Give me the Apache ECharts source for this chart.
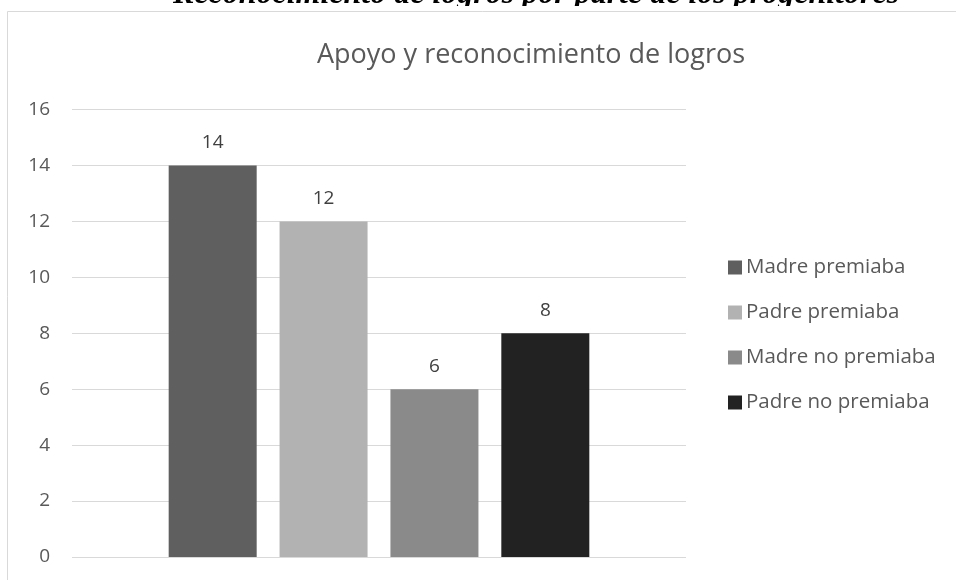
<!DOCTYPE html>
<html>
<head>
<meta charset="utf-8">
<script src="https://cdn.jsdelivr.net/npm/echarts@6/dist/echarts.min.js"></script>
<style>
  html, body { margin: 0; padding: 0; background: #ffffff; }
  #chart { width: 956px; height: 580px; }
</style>
</head>
<body>
<div id="chart"></div>
<script>
// Data
const categories = [''];
const seriesNames = ['Madre premiaba', 'Padre premiaba', 'Madre no premiaba', 'Padre no premiaba'];
const seriesValues = [14, 12, 6, 8];
const seriesColors = ['#5f5f5f', '#b2b2b2', '#8a8a8a', '#222222'];
const yTicks = { min: 0, max: 16, interval: 2 };

const captionText = 'Reconocimiento de logros por parte de los progenitores';
const chartTitle = 'Apoyo y reconocimiento de logros';

const FONT = '"Open Sans", "Noto Sans", sans-serif';
const TEXT_GREY = '#595959';

const chart = echarts.init(document.getElementById('chart'), null, { renderer: 'canvas' });

const series = seriesNames.map((name, i) => ({
  name: name,
  type: 'bar',
  data: [seriesValues[i]],
  barWidth: 88,
  barGap: '26%',
  itemStyle: { color: seriesColors[i] },
  label: {
    show: true,
    position: 'top',
    distance: 13,
    color: '#404040',
    fontFamily: FONT,
    fontSize: 19
  }
}));

chart.setOption({
  animation: false,
  backgroundColor: '#ffffff',
  graphic: [
    {
      // caption above the chart frame, its lower part hidden by the frame
      type: 'text',
      z: -20,
      x: 536,
      y: -5,
      style: {
        text: captionText,
        fontStyle: 'italic',
        fontWeight: 'bold',
        fontSize: 32,
        fontFamily: '"Liberation Serif", "DejaVu Serif", serif',
        fill: '#000000',
        align: 'center',
        verticalAlign: 'middle'
      }
    },
    {
      // white strip between caption and frame
      type: 'rect',
      z: -15,
      shape: { x: 0, y: 6, width: 956, height: 6 },
      style: { fill: '#ffffff' }
    },
    {
      // chart frame
      type: 'rect',
      z: -10,
      shape: { x: 7.5, y: 11.5, width: 1000, height: 700 },
      style: { fill: '#ffffff', stroke: '#d9d9d9', lineWidth: 1 }
    },
    {
      type: 'text',
      z: 3,
      x: 531,
      y: 55,
      style: {
        text: chartTitle,
        font: '27px ' + FONT,
        fill: TEXT_GREY,
        align: 'center',
        verticalAlign: 'middle'
      }
    }
  ],
  grid: { left: 72, right: 270, top: 109.5, bottom: 23, containLabel: false },
  legend: {
    orient: 'vertical',
    left: 723,
    top: 252,
    itemWidth: 14,
    itemHeight: 14,
    itemGap: 24,
    icon: 'rect',
    data: seriesNames,
    textStyle: { color: TEXT_GREY, fontFamily: FONT, fontSize: 20.5, padding: [0, 0, 0, -1] }
  },
  xAxis: {
    type: 'category',
    data: categories,
    axisLine: { show: false },
    axisTick: { show: false },
    axisLabel: { show: false }
  },
  yAxis: {
    type: 'value',
    min: yTicks.min,
    max: yTicks.max,
    interval: yTicks.interval,
    axisLine: { show: false },
    axisTick: { show: false },
    axisLabel: { color: TEXT_GREY, fontFamily: FONT, fontSize: 19, margin: 22 },
    splitLine: { lineStyle: { color: '#d9d9d9', width: 1 } }
  },
  series: series
});
</script>
</body>
</html>
